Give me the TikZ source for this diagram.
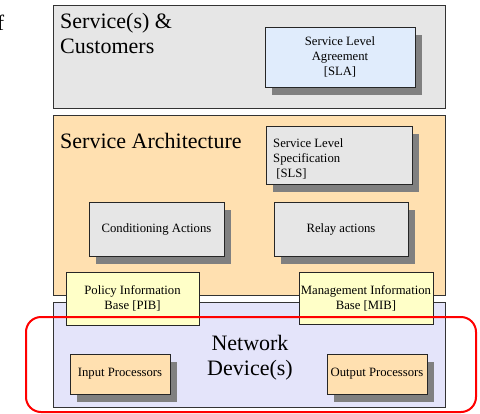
\documentclass[tikz,border=0pt]{standalone}
\usepackage{fontspec}
\setmainfont{Liberation Serif}
\usetikzlibrary{shadows}
\definecolor{panelgray}{HTML}{E6E6E6}
\definecolor{panelorange}{HTML}{FFE0B0}
\definecolor{panelblue}{HTML}{E4E4FA}
\definecolor{slablue}{HTML}{E0ECFC}
\definecolor{baseyellow}{HTML}{FFFFC8}
\definecolor{shadowgray}{HTML}{808080}
\definecolor{framered}{HTML}{FF0000}
\tikzset{
  panel/.style={draw=black!80, line width=0.8pt, inner sep=0pt},
  boxbase/.style={draw=black!85, line width=0.8pt, inner sep=0pt, align=center,
    font=\fontsize{12.7}{15}\selectfont},
  shadowed/.style={boxbase, drop shadow={shadow xshift=7pt, shadow yshift=-8pt, fill=shadowgray, opacity=1}},
  bigtext/.style={inner sep=0pt, font=\fontsize{22}{25}\selectfont, align=left},
}
\begin{document}
\begin{tikzpicture}[x=1pt,y=-1pt]
\useasboundingbox (0,0) rectangle (480,413);
% stray letter
\node[bigtext, anchor=base east] (f) at (4.5,30) {f};
% top panel
\node[panel, fill=panelgray, minimum width=392pt, minimum height=103pt] (svc) at (249,56.5) {};
\node[bigtext, anchor=base west] (svct) at (60,53) {Service(s) \&\\Customers};
\node[shadowed, fill=slablue, minimum width=150pt, minimum height=60pt] (sla) at (340,57) {Service Level\\Agreement\\{[SLA]}};
% service architecture
\node[panel, fill=panelorange, minimum width=392pt, minimum height=180pt] (sa) at (249,205) {};
\node[bigtext, anchor=base west] (sat) at (60,148) {Service Architecture};
\node[shadowed, fill=panelgray, minimum width=146pt, minimum height=58pt] (sls) at (339,155) {};
\node[inner sep=0pt, anchor=base west, align=left, font=\fontsize{12.7}{15}\selectfont] (slst) at (273,177) {Service Level\\Specification\\\ {[SLS]}};
\node[shadowed, fill=panelgray, minimum width=135pt, minimum height=54pt] (cond) at (156.5,229) {Conditioning Actions};
\node[shadowed, fill=panelgray, minimum width=134pt, minimum height=54pt] (relay) at (341,229) {Relay actions};
% network device
\node[panel, fill=panelblue, minimum width=392pt, minimum height=105pt] (nd) at (249,354.5) {};
\node[bigtext, align=center, anchor=base] (ndt) at (250,375) {Network\\Device(s)};
\node[shadowed, fill=panelorange, minimum width=100pt, minimum height=40pt] (inp) at (120,374) {Input Processors};
\node[shadowed, fill=panelorange, minimum width=100pt, minimum height=40pt] (outp) at (377,374) {Output Processors};
% information bases
\node[boxbase, fill=baseyellow, minimum width=133pt, minimum height=53pt] (pib) at (132.5,298.5) {Policy Information\\Base [PIB]};
\node[boxbase, fill=baseyellow, minimum width=134pt, minimum height=52pt] (mib) at (366,298) {Management Information\\Base [MIB]};
% red frame
\draw[framered, line width=2pt, rounded corners=15pt] (26,317) rectangle (476,412);
\end{tikzpicture}
\end{document}
